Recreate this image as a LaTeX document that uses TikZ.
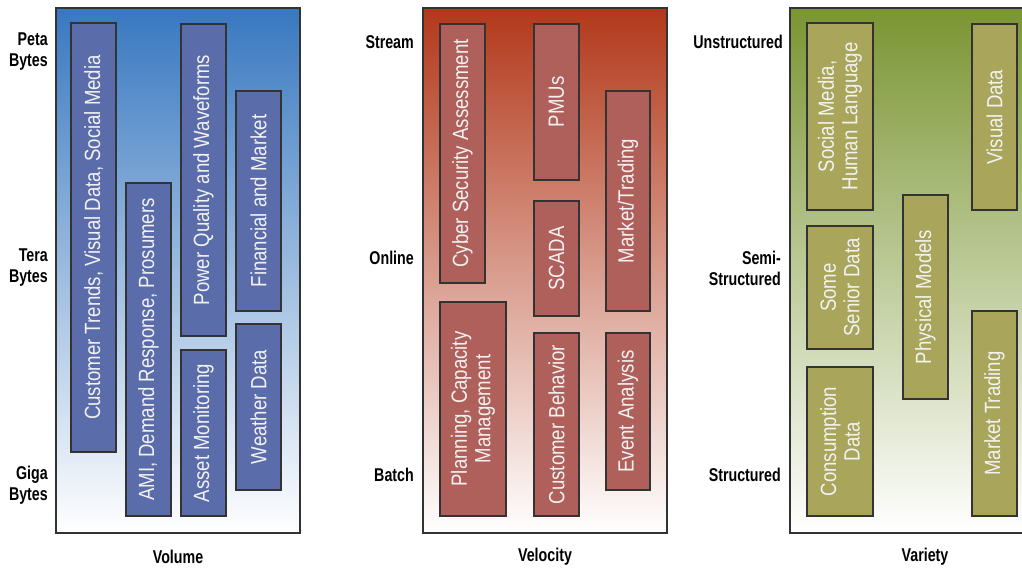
\documentclass[tikz,border=0pt]{standalone}
\usepackage{fontspec}
\setmainfont{Liberation Sans}[FakeStretch=0.845]
\newfontfamily\labfont{Liberation Sans}[FakeStretch=0.77]
\begin{document}
\begin{tikzpicture}[x=1pt,y=-1pt,
  panel/.style={draw=black!80,line width=1.3pt},
  databox/.style={draw=black!80,line width=1.2pt,rotate=90,inner sep=0pt,
    text=white!95!black,align=center,font=\fontsize{22}{23.5}\selectfont},
  axislab/.style={font=\labfont\bfseries\fontsize{18.5}{21}\selectfont,align=right,anchor=east,inner sep=0pt},
  titlelab/.style={font=\labfont\bfseries\fontsize{18.5}{21}\selectfont,inner sep=0pt}]
\useasboundingbox (0,0) rectangle (1022,570);
\clip (0,0) rectangle (1022,570);
\definecolor{bluetop}{HTML}{3878C0}
\definecolor{bluemid}{HTML}{8CA5D6}
\definecolor{bluebox}{HTML}{5A6CAA}
\definecolor{redtop}{HTML}{B2381A}
\definecolor{redmid}{HTML}{D09470}
\definecolor{redbox}{HTML}{B0605A}
\definecolor{greentop}{HTML}{7A9532}
\definecolor{greenmid}{HTML}{B4BC86}
\definecolor{greenbox}{HTML}{A9A65C}
\newcommand\databoxat[7]{%
  \node[databox,fill=#6,minimum width={(#5-#3)*1pt},minimum height={(#4-#2)*1pt}]
    (#1) at ({(#2+#4)/2},{(#3+#5)/2}) {#7};}
% panels
\shade[top color=bluetop,middle color=bluemid,bottom color=white] (56,8) rectangle (300,533);
\draw[panel] (56,8) rectangle (300,533);
\shade[top color=redtop,middle color=redmid,bottom color=white] (423,8) rectangle (667,533);
\draw[panel] (423,8) rectangle (667,533);
\shade[top color=greentop,middle color=greenmid,bottom color=white] (790,8) rectangle (1034,533);
\draw[panel] (790,8) rectangle (1034,533);
% volume boxes
\databoxat{ct}{71}{23}{116}{452}{bluebox}{Customer Trends, Visual Data, Social Media}
\databoxat{ami}{126}{183}{171}{516}{bluebox}{AMI, Demand Response, Prosumers}
\databoxat{pq}{181}{24}{226}{336}{bluebox}{Power Quality and Waveforms}
\databoxat{am}{181}{350}{226}{516}{bluebox}{Asset Monitoring}
\databoxat{fm}{236}{91}{281}{311}{bluebox}{Financial and Market}
\databoxat{wd}{236}{324}{281}{490}{bluebox}{Weather Data}
% velocity boxes
\databoxat{csa}{440}{24}{485}{283}{redbox}{Cyber Security Assessment}
\databoxat{pmu}{534}{24}{579}{180}{redbox}{PMUs}
\databoxat{mt}{606}{91}{650}{311}{redbox}{Market/Trading}
\databoxat{scada}{534}{201}{579}{316}{redbox}{SCADA}
\databoxat{pcm}{440}{302}{506}{516}{redbox}{Planning, Capacity\\Management}
\databoxat{cb}{534}{333}{579}{516}{redbox}{Customer Behavior}
\databoxat{ea}{606}{333}{650}{490}{redbox}{Event Analysis}
% variety boxes
\databoxat{smh}{807}{23}{873}{210}{greenbox}{Social Media,\\Human Language}
\databoxat{vd}{972}{24}{1017}{210}{greenbox}{Visual Data}
\databoxat{pm}{903}{195}{948}{399}{greenbox}{Physical Models}
\databoxat{ssd}{807}{226}{873}{349}{greenbox}{Some\\Senior Data}
\databoxat{cd}{807}{367}{873}{516}{greenbox}{Consumption\\Data}
\databoxat{mtr}{972}{311}{1017}{516}{greenbox}{Market Trading}
% axis labels
\node[axislab] (peta) at (48,52) {Peta\\Bytes};
\node[axislab] (tera) at (48,268) {Tera\\Bytes};
\node[axislab] (giga) at (48,485) {Giga\\Bytes};
\node[axislab] (stream) at (414,42) {Stream};
\node[axislab] (online) at (414,258) {Online};
\node[axislab] (batch) at (414,475) {Batch};
\node[axislab] (unstr) at (783,42) {Unstructured};
\node[axislab] (semi) at (781,268) {Semi-\\Structured};
\node[axislab] (str) at (781,475) {Structured};
\node[titlelab] (vol) at (178,557) {Volume};
\node[titlelab] (vel) at (545,557) {Velocity};
\node[titlelab] (var) at (925,557) {Variety};
\end{tikzpicture}
\end{document}
